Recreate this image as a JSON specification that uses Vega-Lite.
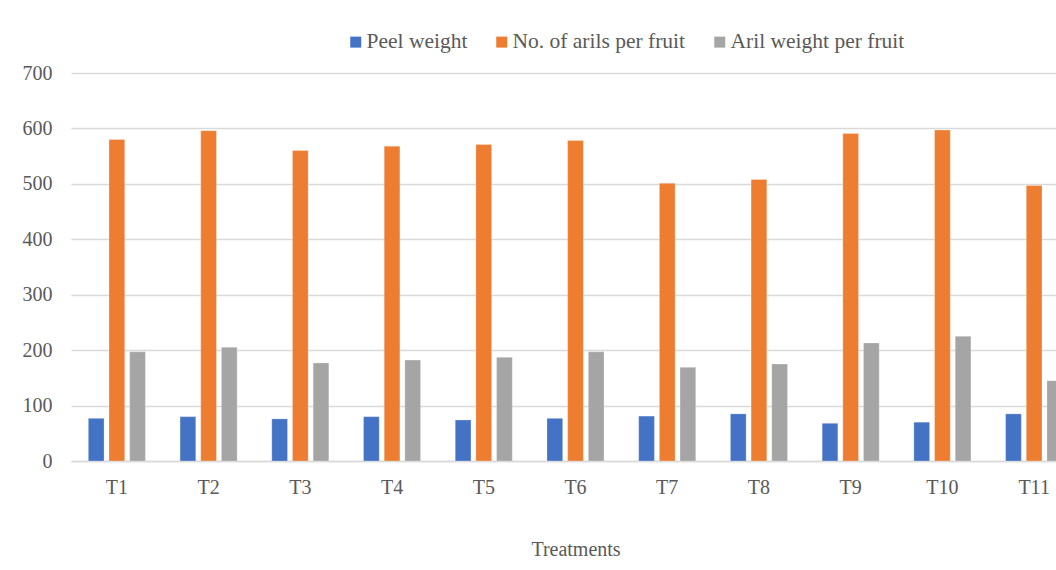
{
  "$schema": "https://vega.github.io/schema/vega-lite/v6.json",
  "autosize": {"type": "none"},
  "padding": {"left": 71, "top": 73, "right": 0, "bottom": 109},
  "width": 1009,
  "height": 388,
  "background": "white",
  "data": {
    "values": [
      {"treatment": "T1", "measure": "Peel weight", "value": 77},
      {"treatment": "T1", "measure": "No. of arils per fruit", "value": 580},
      {"treatment": "T1", "measure": "Aril weight per fruit", "value": 197},
      {"treatment": "T2", "measure": "Peel weight", "value": 80},
      {"treatment": "T2", "measure": "No. of arils per fruit", "value": 596},
      {"treatment": "T2", "measure": "Aril weight per fruit", "value": 205},
      {"treatment": "T3", "measure": "Peel weight", "value": 76},
      {"treatment": "T3", "measure": "No. of arils per fruit", "value": 560},
      {"treatment": "T3", "measure": "Aril weight per fruit", "value": 177},
      {"treatment": "T4", "measure": "Peel weight", "value": 80},
      {"treatment": "T4", "measure": "No. of arils per fruit", "value": 568},
      {"treatment": "T4", "measure": "Aril weight per fruit", "value": 182},
      {"treatment": "T5", "measure": "Peel weight", "value": 74},
      {"treatment": "T5", "measure": "No. of arils per fruit", "value": 571},
      {"treatment": "T5", "measure": "Aril weight per fruit", "value": 187},
      {"treatment": "T6", "measure": "Peel weight", "value": 77},
      {"treatment": "T6", "measure": "No. of arils per fruit", "value": 578},
      {"treatment": "T6", "measure": "Aril weight per fruit", "value": 197},
      {"treatment": "T7", "measure": "Peel weight", "value": 81},
      {"treatment": "T7", "measure": "No. of arils per fruit", "value": 501},
      {"treatment": "T7", "measure": "Aril weight per fruit", "value": 169},
      {"treatment": "T8", "measure": "Peel weight", "value": 85},
      {"treatment": "T8", "measure": "No. of arils per fruit", "value": 508},
      {"treatment": "T8", "measure": "Aril weight per fruit", "value": 175},
      {"treatment": "T9", "measure": "Peel weight", "value": 68},
      {"treatment": "T9", "measure": "No. of arils per fruit", "value": 591},
      {"treatment": "T9", "measure": "Aril weight per fruit", "value": 213},
      {"treatment": "T10", "measure": "Peel weight", "value": 70},
      {"treatment": "T10", "measure": "No. of arils per fruit", "value": 597},
      {"treatment": "T10", "measure": "Aril weight per fruit", "value": 225},
      {"treatment": "T11", "measure": "Peel weight", "value": 85},
      {"treatment": "T11", "measure": "No. of arils per fruit", "value": 497},
      {"treatment": "T11", "measure": "Aril weight per fruit", "value": 145}
    ]
  },
  "mark": {"type": "bar", "stroke": "white", "strokeOpacity": 0.5, "strokeWidth": 0.5},
  "encoding": {
    "x": {
      "field": "treatment",
      "type": "nominal",
      "sort": null,
      "scale": {"paddingInner": 0.378, "paddingOuter": 0.189},
      "axis": {
        "title": "Treatments",
        "labelAngle": 0,
        "labelFont": "Liberation Serif",
        "labelFontSize": 20,
        "labelColor": "#595959",
        "labelPadding": 16,
        "ticks": false,
        "domain": true,
        "domainColor": "#d9d9d9",
        "domainWidth": 1.5,
        "titleFont": "Liberation Serif",
        "titleFontSize": 20,
        "titleFontWeight": "normal",
        "titleColor": "#595959",
        "titlePadding": 42
      }
    },
    "xOffset": {
      "field": "measure",
      "type": "nominal",
      "sort": ["Peel weight", "No. of arils per fruit", "Aril weight per fruit"],
      "scale": {"paddingInner": 0.24, "paddingOuter": 0}
    },
    "y": {
      "field": "value",
      "type": "quantitative",
      "scale": {"domain": [0, 700]},
      "axis": {
        "title": null,
        "values": [0, 100, 200, 300, 400, 500, 600, 700],
        "labelFont": "Liberation Serif",
        "labelFontSize": 20,
        "labelColor": "#595959",
        "labelPadding": 19,
        "ticks": false,
        "domain": false,
        "gridColor": "#d9d9d9",
        "gridWidth": 1.5
      }
    },
    "color": {
      "field": "measure",
      "type": "nominal",
      "sort": ["Peel weight", "No. of arils per fruit", "Aril weight per fruit"],
      "scale": {
        "domain": ["Peel weight", "No. of arils per fruit", "Aril weight per fruit"],
        "range": ["#4472C4", "#ED7D31", "#A5A5A5"]
      },
      "legend": {
        "title": null,
        "orient": "none",
        "direction": "horizontal",
        "legendX": 274,
        "legendY": -42,
        "padding": 0,
        "symbolType": "square",
        "symbolSize": 121,
        "symbolStrokeWidth": 0,
        "labelFont": "Liberation Serif",
        "labelFontSize": 21.5,
        "labelColor": "#595959",
        "labelOffset": 0,
        "columnPadding": 23,
        "labelLimit": 400
      }
    }
  },
  "config": {
    "view": {"stroke": null}
  }
}
